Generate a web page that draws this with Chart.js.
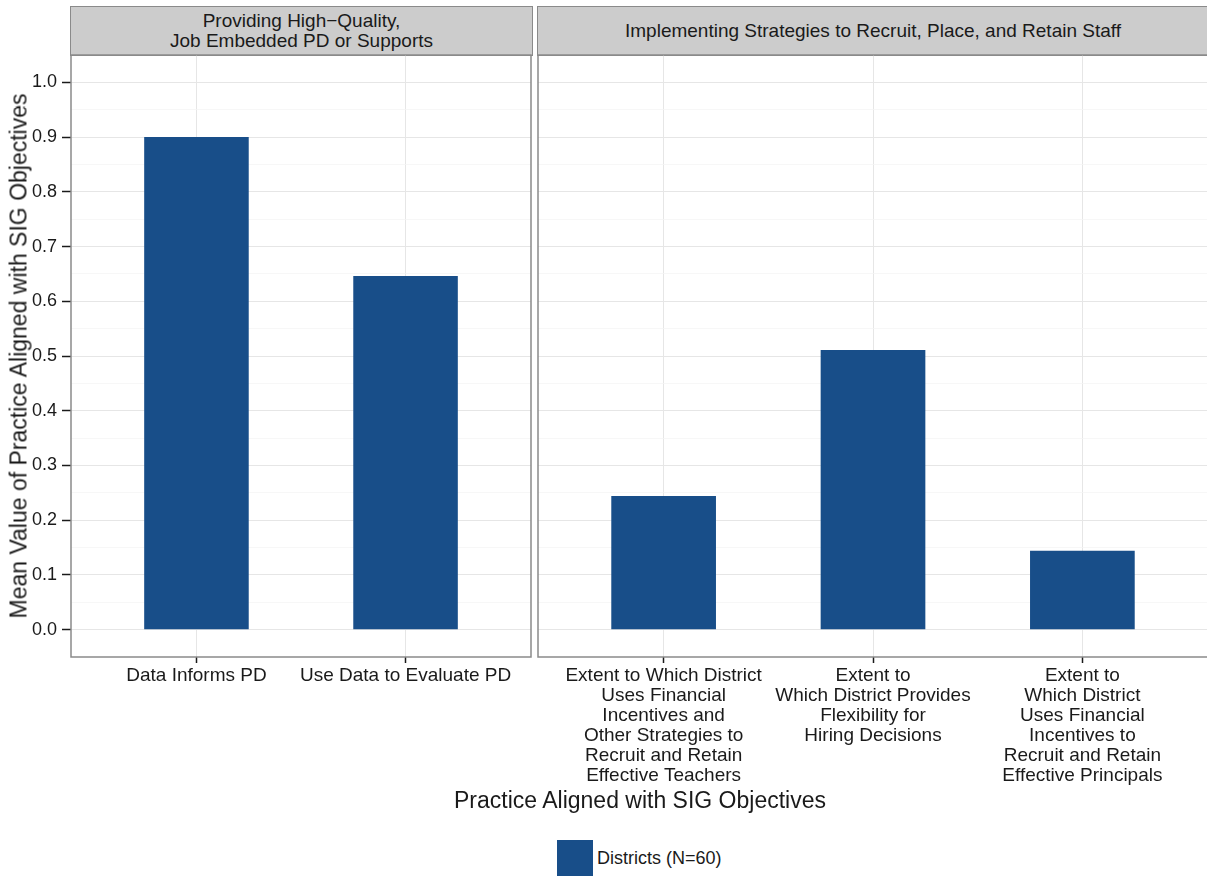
<!DOCTYPE html>
<html>
<head>
<meta charset="utf-8">
<script src="https://cdn.jsdelivr.net/npm/chart.js@4.4.1/dist/chart.umd.min.js"></script>
<style>
  body { margin: 0; width: 1207px; height: 878px; background: #fff; position: relative; overflow: hidden;
         font-family: "Liberation Sans", Arial, sans-serif; color: #1a1a1a; }
  .strip { position: absolute; top: 6px; height: 50px; box-sizing: border-box; background: #cccccc;
           border: 1.5px solid #8a8a8a; display: flex; align-items: center; justify-content: center;
           text-align: center; font-size: 19px; line-height: 20px; color: #1a1a1a; }
  .panel { position: absolute; top: 54px; }
  #ytitle { position: absolute; left: 19px; top: 356px; transform: translate(-50%, -50%) rotate(-90deg);
            white-space: nowrap; font-size: 23px; }
  #xtitle { position: absolute; left: 640px; top: 787px; transform: translateX(-50%); white-space: nowrap; font-size: 23px; }
  #legend { position: absolute; left: 557px; top: 840px; display: flex; align-items: center; font-size: 18px; }
  #legend .key { width: 36px; height: 36px; margin-right: 4px; }
</style>
</head>
<body>
<div class="strip" id="strip-left" style="left:70px;width:463px;"></div>
<div class="strip" id="strip-right" style="left:537px;width:672px;"></div>
<div class="panel" style="left:0;"><canvas id="leftChart" width="533" height="741"></canvas></div>
<div class="panel" style="left:536px;"><canvas id="rightChart" width="672" height="741"></canvas></div>
<div id="ytitle"></div>
<div id="xtitle"></div>
<div id="legend"><div class="key"></div><span id="legend-text"></span></div>

<script>
// Facet strip titles
const facetTitles = [
    ['Providing High\u2212Quality,', 'Job Embedded PD or Supports'],
    ['Implementing Strategies to Recruit, Place, and Retain Staff']
];

// Left facet
const leftCategories = ['Data Informs PD', 'Use Data to Evaluate PD'];
const leftValues = [0.9, 0.646];

// Right facet
const rightCategories = [
    ['Extent to Which District', 'Uses Financial', 'Incentives and', 'Other Strategies to', 'Recruit and Retain', 'Effective Teachers'],
    ['Extent to', 'Which District Provides', 'Flexibility for', 'Hiring Decisions'],
    ['Extent to', 'Which District', 'Uses Financial', 'Incentives to', 'Recruit and Retain', 'Effective Principals']
];
const rightValues = [0.244, 0.511, 0.144];

// y axis breaks
const yMajorTicks = [0.0, 0.1, 0.2, 0.3, 0.4, 0.5, 0.6, 0.7, 0.8, 0.9, 1.0];
const yMinorTicks = [0.05, 0.15, 0.25, 0.35, 0.45, 0.55, 0.65, 0.75, 0.85, 0.95];

const seriesLabel = 'Districts (N=60)';
const yTitle = 'Mean Value of Practice Aligned with SIG Objectives';
const xTitle = 'Practice Aligned with SIG Objectives';

const BAR_COLOR = '#184e89';
const FONT = '"Liberation Sans", Arial, sans-serif';

document.getElementById('strip-left').innerHTML = facetTitles[0].join('<br>');
document.getElementById('strip-right').innerHTML = facetTitles[1].join('<br>');
document.getElementById('ytitle').textContent = yTitle;
document.getElementById('xtitle').textContent = xTitle;
document.getElementById('legend-text').textContent = seriesLabel;
document.querySelector('#legend .key').style.background = BAR_COLOR;

// Panel border, like theme_bw
const panelBorder = {
    id: 'panelBorder',
    afterDraw(chart) {
        const { ctx, chartArea: a } = chart;
        ctx.save();
        ctx.strokeStyle = '#8a8a8a';
        ctx.lineWidth = 1.5;
        ctx.strokeRect(a.left, a.top, a.right - a.left, a.bottom - a.top);
        ctx.restore();
    }
};

function yScale(showLabels) {
    return {
        type: 'linear',
        min: -0.05,
        max: 1.05,
        afterBuildTicks(s) {
            const t = yMajorTicks.map(v => ({ value: v }))
                .concat(yMinorTicks.map(v => ({ value: v, minor: true })));
            t.sort((a, b) => a.value - b.value);
            s.ticks = t;
        },
        afterFit(s) {
            s.width = showLabels ? 71 : 0;
            s.paddingTop = 0;
            s.paddingBottom = 0;
        },
        border: { display: false },
        grid: {
            color: c => (c.tick && c.tick.minor) ? '#f3f3f3' : '#e6e6e6',
            lineWidth: c => (c.tick && c.tick.minor) ? 0.7 : 1,
            drawTicks: showLabels,
            tickLength: 9,
            tickWidth: 1.5,
            tickColor: c => (c.tick && c.tick.minor) ? 'rgba(0,0,0,0)' : '#1a1a1a'
        },
        ticks: {
            display: showLabels,
            autoSkip: false,
            padding: 5,
            color: '#1a1a1a',
            font: { family: FONT, size: 18 },
            callback: (v, i, ticks) => ticks[i].minor ? '' : v.toFixed(1)
        }
    };
}

function xScale(categories) {
    return {
        type: 'linear',
        min: 0.4,
        max: categories.length + 0.6,
        offset: false,
        afterBuildTicks(s) {
            s.ticks = categories.map((c, i) => ({ value: i + 1 }));
        },
        afterFit(s) {
            s.height = 138;
            s.paddingLeft = 0;
            s.paddingRight = 0;
        },
        border: { display: false },
        grid: {
            offset: false,
            color: '#e6e6e6',
            lineWidth: 1,
            tickLength: 6,
            tickWidth: 1.5,
            tickColor: '#1a1a1a'
        },
        ticks: {
            autoSkip: false,
            maxRotation: 0,
            minRotation: 0,
            padding: 3,
            color: '#1a1a1a',
            font: { family: FONT, size: 19, lineHeight: 20 / 19 },
            callback: v => categories[Math.round(v) - 1]
        }
    };
}

function makePanel(id, categories, values, showY, padding) {
    new Chart(document.getElementById(id), {
        type: 'bar',
        data: {
            datasets: [{
                label: seriesLabel,
                data: values.map((v, i) => ({ x: i + 1, y: v })),
                backgroundColor: BAR_COLOR,
                borderWidth: 0,
                barPercentage: 0.5,
                categoryPercentage: 1
            }]
        },
        options: {
            responsive: false,
            animation: false,
            devicePixelRatio: 1,
            layout: { padding: padding },
            plugins: { legend: { display: false }, tooltip: { enabled: false } },
            scales: { x: xScale(categories), y: yScale(showY) }
        },
        plugins: [panelBorder]
    });
}

makePanel('leftChart', leftCategories, leftValues, true, { top: 1, left: 0, right: 2, bottom: 0 });
makePanel('rightChart', rightCategories, rightValues, false, { top: 1, left: 2, right: 0, bottom: 0 });
</script>
</body>
</html>
